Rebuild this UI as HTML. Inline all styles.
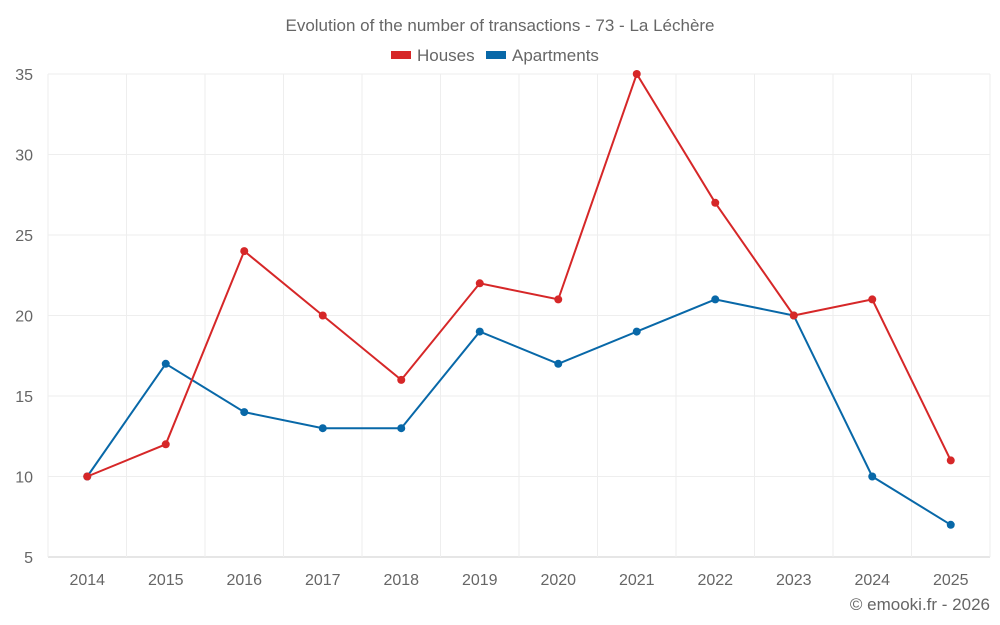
<!DOCTYPE html>
<html><head><meta charset="utf-8"><style>
html,body{margin:0;padding:0;background:#fff;}
svg{display:block;font-family:"Liberation Sans",sans-serif;}
</style></head><body>
<svg id="chart" width="1000" height="625" viewBox="0 0 1000 625">
<text x="500" y="31" text-anchor="middle" font-size="17" fill="#666">Evolution of the number of transactions - 73 - La Léchère</text>
<g>
<g><rect x="391" y="51" width="20" height="8" fill="#d62728"/><text x="417" y="61" font-size="17" fill="#666">Houses</text></g>
<g><rect x="486" y="51" width="20" height="8" fill="#0868a8"/><text x="512" y="61" font-size="17" fill="#666">Apartments</text></g>
</g>
<g id="grid"></g>
<g id="axes"></g>
<g id="series"></g>
<text x="990" y="610" text-anchor="end" font-size="17" fill="#666">© emooki.fr - 2026</text>
</svg>
<script>
const years=["2014","2015","2016","2017","2018","2019","2020","2021","2022","2023","2024","2025"];
const houses=[10,12,24,20,16,22,21,35,27,20,21,11];
const apartments=[10,17,14,13,13,19,17,19,21,20,10,7];
const yTicks=[5,10,15,20,25,30,35];
const L=48,R=990,T=74,B=557,yMin=5,yMax=35;
const NS="http://www.w3.org/2000/svg";
const band=(R-L)/years.length;
const xs=i=>L+band*(i+0.5);
const ys=v=>B-(v-yMin)/(yMax-yMin)*(B-T);
function mk(tag,attrs,parent){const e=document.createElementNS(NS,tag);for(const k in attrs)e.setAttribute(k,attrs[k]);parent.appendChild(e);return e;}
const grid=document.getElementById('grid'),axes=document.getElementById('axes'),series=document.getElementById('series');
yTicks.forEach(t=>{
 const y=ys(t);
 const l=mk('line',{x1:L,x2:R,y1:y,y2:y,stroke:t===yMin?'#ccc':'#eee','stroke-width':1},grid);
 
 
 const tx=mk('text',{x:33,y:y+6,'text-anchor':'end','font-size':16,fill:'#666'},axes);
 tx.textContent=t;
 
 
});
for(let i=0;i<=years.length;i++){
 const x=L+band*i;
 const l=mk('line',{x1:x,x2:x,y1:T,y2:B+(i===0||i===years.length?0:0),stroke:'#eee','stroke-width':1},grid);
 
 
}
years.forEach((yr,i)=>{
 const tx=mk('text',{x:xs(i),y:585,'text-anchor':'middle','font-size':16,fill:'#666'},axes);
 tx.textContent=yr;
 
 
});
function draw(vals,color,name){
 const g=mk('g',{},series);
 
 
 const p=mk('polyline',{points:vals.map((v,i)=>xs(i)+','+ys(v)).join(' '),fill:'none',stroke:color,'stroke-width':2},g);
 
 
 vals.forEach((v,i)=>{
  const c=mk('circle',{cx:xs(i),cy:ys(v),r:4,fill:color},g);
  
  
 });
}
draw(apartments,'#0868a8','apartments');
draw(houses,'#d62728','houses');
</script>
</body></html>
